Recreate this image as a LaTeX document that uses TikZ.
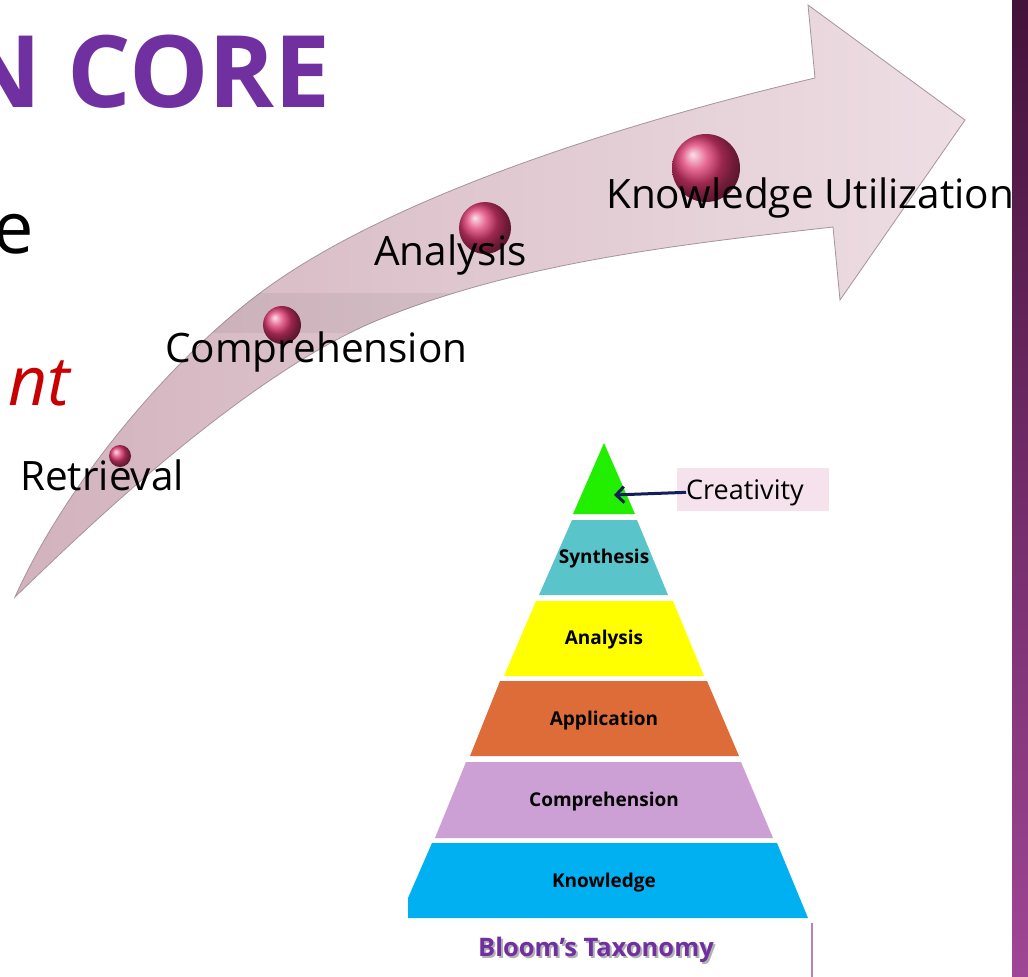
\documentclass[tikz,border=0pt]{standalone}
\usepackage{fontspec}
\setmainfont{Open Sans}
\usetikzlibrary{arrows.meta}
\definecolor{titlepurple}{RGB}{112,48,160}
\definecolor{bandL}{RGB}{210,178,189}
\definecolor{bandR}{RGB}{238,222,228}
\definecolor{bandedge}{RGB}{165,148,155}
\definecolor{ballc}{RGB}{222,55,112}
\definecolor{greenL}{RGB}{34,238,0}
\definecolor{tealL}{RGB}{90,196,203}
\definecolor{yellowL}{RGB}{255,255,0}
\definecolor{orangeL}{RGB}{222,108,56}
\definecolor{lilacL}{RGB}{204,160,212}
\definecolor{blueL}{RGB}{0,176,240}
\definecolor{creabox}{RGB}{245,226,236}
\definecolor{navyarrow}{RGB}{20,30,90}
\definecolor{redtext}{RGB}{200,0,0}
\definecolor{barTop}{RGB}{68,18,58}
\definecolor{barBot}{RGB}{160,70,150}
\definecolor{thinline}{RGB}{185,130,175}
\tikzset{
  stagelabel/.style={font=\fontsize{40.5}{44}\selectfont, text=black, inner sep=0pt, anchor=base west},
  ball/.style={shading=ball, ball color=ballc},
  layerlabel/.style={font=\fontsize{19}{21}\selectfont\bfseries, text=black, inner sep=0pt, anchor=base},
  bloomstyle/.style={inner sep=0pt, anchor=base, font=\fontsize{25.5}{28}\selectfont\bfseries}
}
\def\arrowpath{(15,597) .. controls (67,481) and (172,359) .. (260,293)
  .. controls (380,203) and (602,128) .. (815,78)
  -- (808,5) -- (965,120) -- (840,300) -- (833,227)
  .. controls (683,244) and (522,262) .. (383,318)
  .. controls (243,373.5) and (72.6,541.8) .. (15,597) -- cycle}
\begin{document}
\begin{tikzpicture}[x=1pt,y=-1pt]
\useasboundingbox (0,0) rectangle (1028,977);
\fill[white] (0,0) rectangle (1028,977);

% right purple bar
\shade[top color=barTop, bottom color=barBot] (1012,0) rectangle (1028,977);

% partial slide texts
\node[inner sep=0pt, anchor=base east, text=titlepurple, font=\fontsize{100}{110}\selectfont\bfseries] (title) at (331,107) {N CORE};
\node[inner sep=0pt, anchor=base east, font=\fontsize{72}{80}\selectfont] (ewrd) at (34,253) {e};
\node[inner sep=0pt, anchor=base east, text=redtext, font=\fontsize{68}{72}\selectfont\itshape] (ntwrd) at (70,405) {nt};

% curved arrow
\shadedraw[left color=bandL, right color=bandR, draw=bandedge, line width=0.8pt] \arrowpath;
\begin{scope}
  \clip \arrowpath;
  \fill[black, fill opacity=0.05] (150,293) rectangle (460,333);
\end{scope}

% spheres
\shade[ball] (120,456) circle[radius=11pt];
\shade[ball] (282,325) circle[radius=19pt];
\shade[ball] (485,228) circle[radius=26pt];
\shade[ball] (706,168) circle[radius=34pt];

% stage labels
\node[stagelabel] (retr) at (20,490) {Retrieval};
\node[stagelabel] (comp) at (165,362) {Comprehension};
\node[stagelabel] (anal) at (374,265) {Analysis};
\node[stagelabel] (know) at (606,208) {Knowledge Utilization};

% pyramid
\fill[greenL] (604,443) -- (635,514) -- (573,514) -- cycle;
\fill[tealL] (572,520) -- (637,520) -- (668,595) -- (539,595) -- cycle;
\fill[yellowL] (536,601) -- (673,601) -- (704,676) -- (504,676) -- cycle;
\fill[orangeL] (500,681) -- (707,681) -- (739,756) -- (470,756) -- cycle;
\fill[lilacL] (466,762) -- (741,762) -- (773,838) -- (435,838) -- cycle;
\fill[blueL] (432,843) -- (777,843) -- (808,918) -- (408,918) -- (408,898) -- cycle;

\node[layerlabel] (lsyn) at (604,563) {Synthesis};
\node[layerlabel] (lana) at (604,644) {Analysis};
\node[layerlabel] (lapp) at (604,725) {Application};
\node[layerlabel] (lcom) at (604,806) {Comprehension};
\node[layerlabel] (lkno) at (604,887) {Knowledge};

\coordinate (apex) at (614,495);
\node[fill=creabox, minimum width=152pt, minimum height=43pt, inner sep=0pt] (crea) at (753,489.5) {};
\node[inner sep=0pt, anchor=base west, font=\fontsize{27}{29}\selectfont] (creatxt) at (686,499) {Creativity};
\draw[navyarrow, line width=3pt, -{Straight Barb[length=8pt,width=16pt]}] (creatxt.west) -- (apex);

\node[bloomstyle, text=black!30] (bloomsh) at (598,958) {Bloom’s Taxonomy};
\node[bloomstyle, text=titlepurple] (bloom) at (596,956) {Bloom’s Taxonomy};
\coordinate (lt) at (812,923);
\coordinate (lb) at (812,977);
\draw[thinline, line width=1.2pt] (lt) -- (lb);
\end{tikzpicture}
\end{document}
